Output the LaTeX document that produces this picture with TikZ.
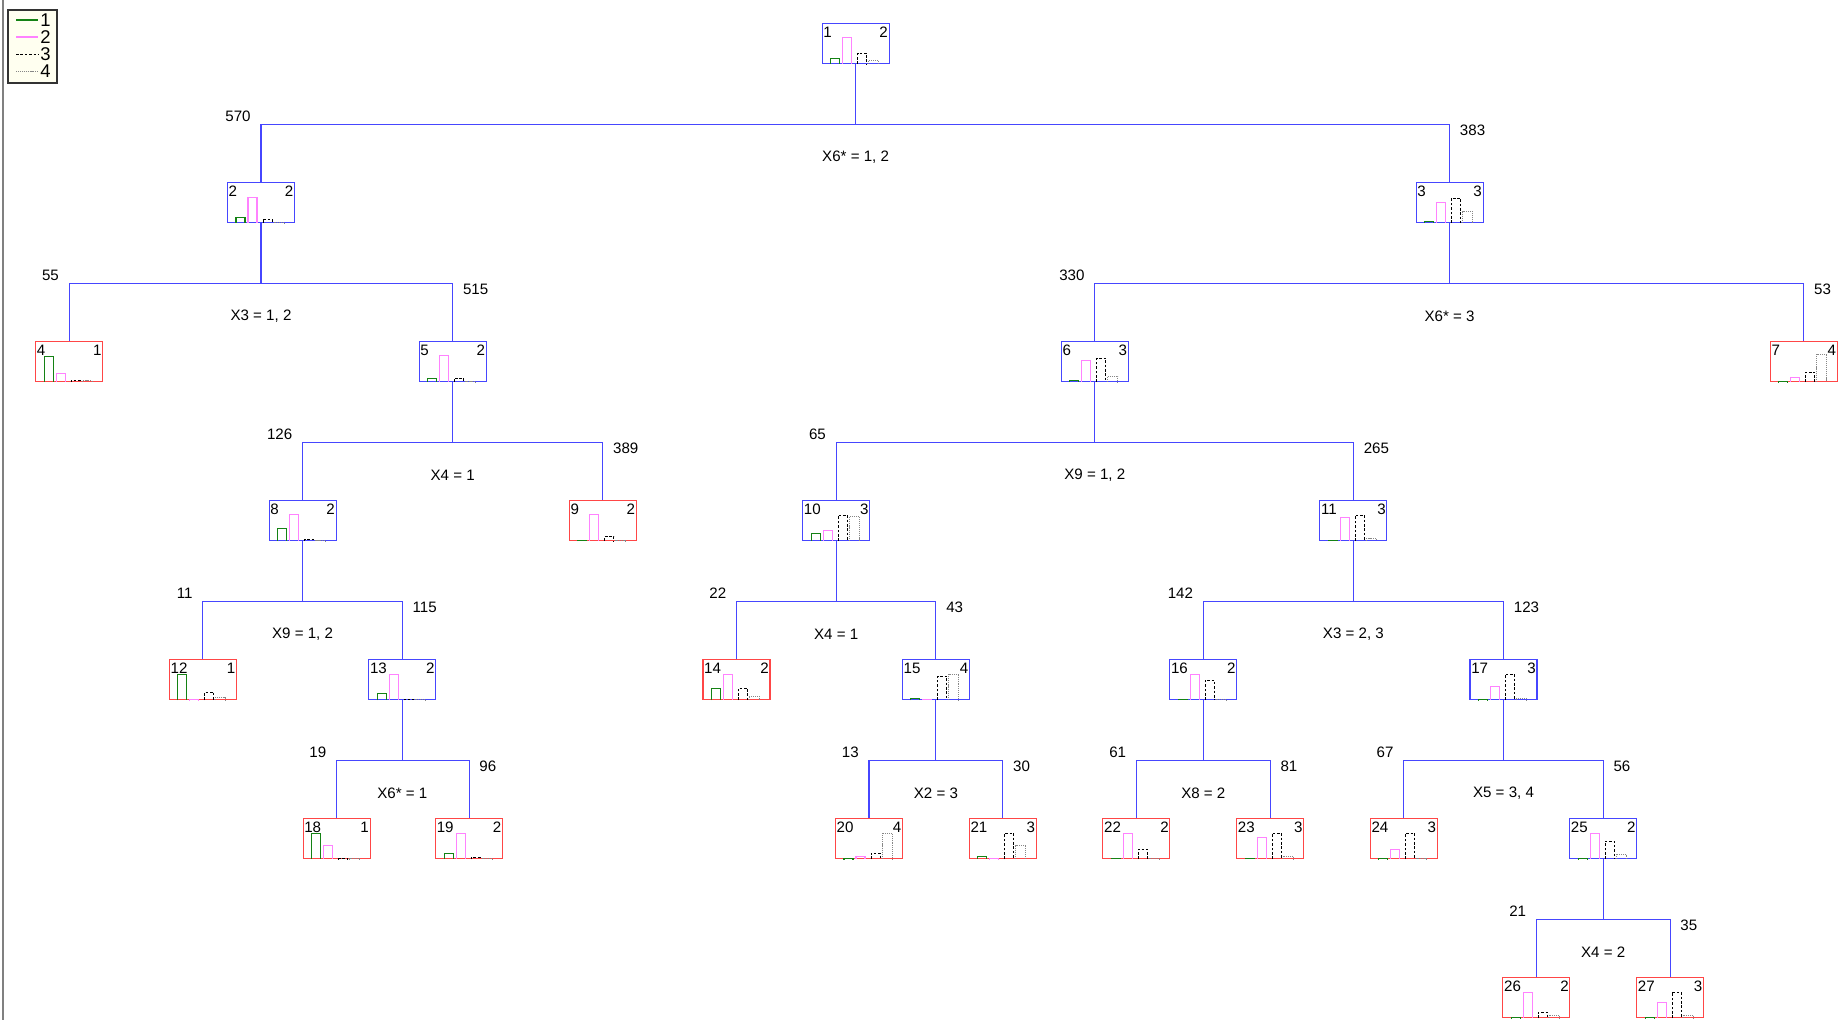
\documentclass[tikz,border=0pt]{standalone}
\usepackage{fontspec}
\setmainfont{Liberation Sans}
\usetikzlibrary{calc}

\definecolor{splitblue}{RGB}{70,70,255}
\definecolor{leafred}{RGB}{255,70,70}
\definecolor{cgreen}{RGB}{20,130,20}
\definecolor{cpink}{RGB}{255,130,255}
\definecolor{cgray}{RGB}{135,135,135}
\definecolor{legfill}{RGB}{255,255,240}

\newcommand{\labfont}{\fontsize{8.6}{10}\selectfont}

\tikzset{
  splitbox/.style={draw=splitblue, line width=0.6pt, minimum width=1.34cm,
    minimum height=0.8cm, inner sep=0pt, anchor=north},
  leafbox/.style={splitbox, draw=leafred},
  link/.style={draw=splitblue, line width=0.6pt},
  numlab/.style={inner xsep=0.8pt, inner ysep=2pt, font=\labfont},
  cnt/.style={font=\labfont, inner sep=0pt},
  bar1/.style={draw=cgreen, line width=0.6pt},
  bar2/.style={draw=cpink, line width=0.6pt},
  bar3/.style={draw=black, line width=0.5pt, dash pattern=on 1.5pt off 1pt},
  bar4/.style={draw=cgray, line width=0.5pt, dash pattern=on 0.6pt off 0.5pt},
}

% histogram node: style, x, top, id, class, heights of the four bars
\newcommand{\hnode}[9]{%
  \node[#1] (n#4) at (#2,#3) {};
  \node[numlab, anchor=north west] (id#4) at (n#4.north west) {#4};
  \node[numlab, anchor=north east] (cl#4) at (n#4.north east) {#5};
  \begin{scope}[shift={(n#4.south west)}]
    \draw[bar1] (9,0) |- (18,-#6) -- (18,0);
    \draw[bar2] (21,0) |- (30,-#7) -- (30,0);
    \draw[bar3] (36,0) |- (45,-#8) -- (45,0);
    \draw[bar4] (47,0) |- (57,-#9) -- (57,0);
  \end{scope}}

% split: parent, left, right, left count, right count, rule
\newcommand{\treesplit}[6]{%
  \draw[link] (n#1.south) -- ++(0,60) coordinate (j#1);
  \draw[link] (n#2.north) |- (j#1) -| (n#3.north);
  \node[cnt, anchor=east] (c#2) at ($(n#2.north)+(-10,-66)$) {#4};
  \node[cnt, anchor=west] (c#3) at ($(n#3.north)+(10,-52)$) {#5};
  \node[cnt] (s#1) at ($(n#1.south)+(0,93)$) {#6};}

\begin{document}
\begin{tikzpicture}[x=0.02cm, y=-0.02cm]
  \useasboundingbox (0,0) rectangle (1839,1020);
  % Frame line and legend
  \draw[gray, line width=0.6pt] (3,0) -- (3,1020);
  \draw[black!80, line width=0.6pt, fill=legfill] (8,10) rectangle (57,83);
  \foreach \i/\st in {1/bar1, 2/bar2, 3/bar3, 4/bar4} {
    \draw[\st] (16,{20+17*(\i-1)}) -- (38,{20+17*(\i-1)});
    \node[cnt, anchor=west] (leg\i) at (40,{20+17*(\i-1)}) {\fontsize{10.5}{12}\selectfont\i};
  }

  % Level 0-2
  \hnode{splitbox}{855.6}{23}{1}{2}{5.7}{26.7}{11}{3.3}
  \hnode{splitbox}{261.0}{182}{2}{2}{6}{26}{4}{1}
  \hnode{splitbox}{1449.6}{182}{3}{3}{1.7}{20.7}{25}{11.7}
  \hnode{leafbox}{69.2}{341}{4}{1}{26}{8.3}{2}{1.5}
  \hnode{splitbox}{452.7}{341}{5}{2}{3.3}{26.7}{4}{1}
  \hnode{splitbox}{1094.8}{341}{6}{3}{1.3}{21.3}{24}{5.7}
  \hnode{leafbox}{1803.8}{341}{7}{4}{0.5}{5}{10}{27.7}
  % Level 3
  \hnode{splitbox}{302.6}{500}{8}{2}{12.3}{26.7}{1.7}{1}
  \hnode{leafbox}{602.8}{500}{9}{2}{1}{26.7}{4.3}{1}
  \hnode{splitbox}{836.2}{500}{10}{3}{7.7}{11}{26}{24.3}
  \hnode{splitbox}{1353.4}{500}{11}{3}{1}{24}{26}{2.7}
  % Level 4
  \hnode{leafbox}{202.9}{659}{12}{1}{26}{0.5}{8}{3}
  \hnode{splitbox}{402.3}{659}{13}{2}{7}{26}{1}{1}
  \hnode{leafbox}{736.5}{659}{14}{2}{12}{26}{12}{4}
  \hnode{splitbox}{935.9}{659}{15}{4}{2}{1}{24}{26}
  \hnode{splitbox}{1203.3}{659}{16}{2}{1}{26}{20}{1}
  \hnode{splitbox}{1503.5}{659}{17}{3}{0.5}{14}{26}{2}
  % Level 5
  \hnode{leafbox}{336.6}{818}{18}{1}{26}{14}{0.5}{0.5}
  \hnode{leafbox}{469.1}{818}{19}{2}{6}{26}{2}{1}
  \hnode{leafbox}{869.0}{818}{20}{4}{0.5}{3}{6}{26}
  \hnode{leafbox}{1002.8}{818}{21}{3}{3}{0.5}{26}{14}
  \hnode{leafbox}{1136.4}{818}{22}{2}{1}{26}{10}{1}
  \hnode{leafbox}{1270.2}{818}{23}{3}{1}{22}{26}{3}
  \hnode{leafbox}{1403.8}{818}{24}{3}{0.5}{10}{26}{1}
  \hnode{splitbox}{1603.2}{818}{25}{2}{0.5}{26}{18}{5}
  % Level 6
  \hnode{leafbox}{1536.4}{977}{26}{2}{0.5}{26}{6}{3}
  \hnode{leafbox}{1670.1}{977}{27}{3}{0.5}{16}{26}{3}

  % Splits
  \treesplit{1}{2}{3}{570}{383}{X6* = 1, 2}
  \treesplit{2}{4}{5}{55}{515}{X3 = 1, 2}
  \treesplit{3}{6}{7}{330}{53}{X6* = 3}
  \treesplit{5}{8}{9}{126}{389}{X4 = 1}
  \treesplit{6}{10}{11}{65}{265}{X9 = 1, 2}
  \treesplit{8}{12}{13}{11}{115}{X9 = 1, 2}
  \treesplit{10}{14}{15}{22}{43}{X4 = 1}
  \treesplit{11}{16}{17}{142}{123}{X3 = 2, 3}
  \treesplit{13}{18}{19}{19}{96}{X6* = 1}
  \treesplit{15}{20}{21}{13}{30}{X2 = 3}
  \treesplit{16}{22}{23}{61}{81}{X8 = 2}
  \treesplit{17}{24}{25}{67}{56}{X5 = 3, 4}
  \treesplit{25}{26}{27}{21}{35}{X4 = 2}
\end{tikzpicture}
\end{document}
